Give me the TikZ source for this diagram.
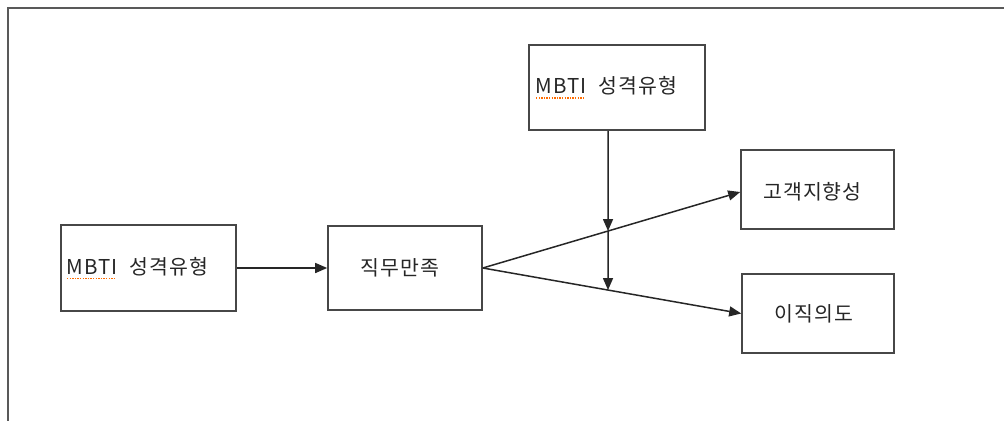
\documentclass[tikz,border=0pt]{standalone}
\usepackage{fontspec}
\newfontfamily\kr[LetterSpace=5]{Noto Sans CJK KR}
\usetikzlibrary{arrows.meta}
\newcommand\squig[1]{\setbox0\hbox{#1}\rlap{\raisebox{-5pt}{\color{orange!85!red}\leaders\hbox to 2.6pt{\hss\rule{1.5pt}{1.3pt}\hss}\hskip\wd0}}\box0}
\begin{document}
\begin{tikzpicture}[x=1pt,y=-1pt,
  box/.style={draw=black!72, line width=1.6pt, minimum width=#1, inner sep=0pt},
  lbl/.style={font=\kr\fontsize{20.5}{24}\selectfont, inner sep=0pt, text=black!85},
  conn/.style={draw=black!85, line width=1.5pt, -{Triangle[length=12pt,width=10pt]}}]
\useasboundingbox (0,0) rectangle (1004,421);
\draw[black!65, line width=2pt] (1004,7.5) -- (7.5,7.5) -- (7.5,421);

\node[box=175pt, minimum height=86pt] (b1) at (148.5,268) {};
\node[box=154pt, minimum height=84pt] (b2) at (405,268) {};
\node[box=176pt, minimum height=85pt] (b3) at (617,87.5) {};
\node[box=153pt, minimum height=79pt] (b4) at (817.5,189.5) {};
\node[box=152pt, minimum height=79pt] (b5) at (818,313.5) {};

\node[lbl, anchor=west] (t1) at ([xshift=6pt]b1.west) {\squig{MBTI}\hspace{7pt} 성격유형};
\node[lbl] (t2) at ([xshift=-5pt]b2.center) {직무만족};
\node[lbl, anchor=west] (t3) at ([xshift=7pt]b3.west) {\squig{MBTI}\hspace{7pt} 성격유형};
\node[lbl] (t4) at ([xshift=-5pt,yshift=-2pt]b4.center) {고객지향성};
\node[lbl] (t5) at ([xshift=-4pt]b5.center) {이직의도};

\coordinate (e4) at ([yshift=-2.5pt]b4.west);
\coordinate (v) at ([xshift=-9pt]b3.south);
\coordinate (vb) at (v |- b5.south);
\coordinate (m1) at (intersection of b2.east--e4 and v--vb);
\coordinate (m2) at (intersection of b2.east--b5.west and v--vb);

\draw[conn] (b1.east) -- (b2.west);
\draw[conn] (b2.east) -- (e4);
\draw[conn] (b2.east) -- (b5.west);
\draw[conn] (v) -- (m1);
\draw[conn] (m1) -- (m2);
\end{tikzpicture}
\end{document}
